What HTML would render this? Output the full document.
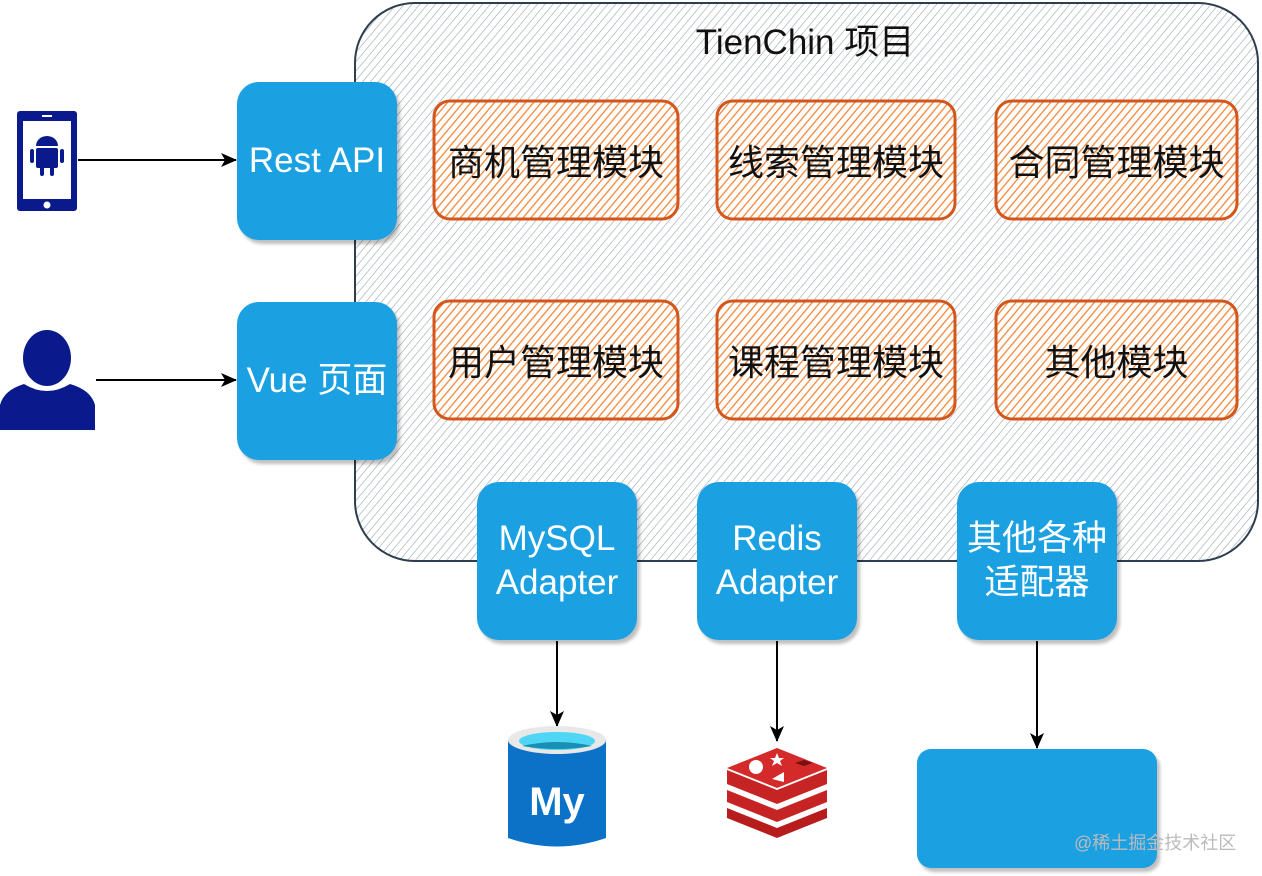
<!DOCTYPE html>
<html><head><meta charset="utf-8"><style>
html,body{margin:0;padding:0;background:#fff;}
body{width:1262px;height:876px;position:relative;overflow:hidden;font-family:"Liberation Sans","Noto Sans CJK SC",sans-serif;}
.b{position:absolute;background:#1ba1e2;border-radius:22px;color:#fff;display:flex;align-items:center;justify-content:center;text-align:center;font-size:35px;line-height:44px;box-shadow:3px 4px 3px rgba(0,0,0,0.25);}
.m{position:absolute;display:flex;align-items:center;justify-content:center;font-size:36px;color:#111;}
</style></head><body>
<svg width="1262" height="876" style="position:absolute;left:0;top:0">
<defs>
<pattern id="g" width="6" height="6" patternUnits="userSpaceOnUse" patternTransform="rotate(40)">
<line x1="0" y1="0" x2="0" y2="6" stroke="#9aa3aa" stroke-width="1.2"/>
</pattern>
<pattern id="o" width="6" height="6" patternUnits="userSpaceOnUse" patternTransform="rotate(40)">
<rect width="6" height="6" fill="#fff"/>
<line x1="0" y1="0" x2="0" y2="6" stroke="#f0883a" stroke-width="2.6"/>
</pattern>
<marker id="a" markerWidth="16" markerHeight="14" refX="15" refY="7" orient="auto" markerUnits="userSpaceOnUse"><path d="M0,0 L16,7 L0,14 L4,7z" fill="#000"/></marker>
</defs>
<rect x="355" y="3" width="903" height="558" rx="60" fill="#fff"/>
<rect x="355" y="3" width="903" height="558" rx="60" fill="url(#g)" stroke="#2d3e50" stroke-width="2"/>
<g fill="url(#o)" stroke="#d4561a" stroke-width="3">
<rect x="434" y="101" width="244" height="118" rx="16"/>
<rect x="717" y="101" width="238" height="118" rx="16"/>
<rect x="996" y="101" width="241" height="118" rx="16"/>
<rect x="434" y="301" width="244" height="118" rx="16"/>
<rect x="717" y="301" width="238" height="118" rx="16"/>
<rect x="996" y="301" width="241" height="118" rx="16"/>
</g>
<g stroke="#000" stroke-width="2" marker-end="url(#a)">
<line x1="78" y1="160" x2="236" y2="160"/>
<line x1="96" y1="380" x2="236" y2="380"/>
<line x1="557" y1="641" x2="557" y2="726"/>
<line x1="777" y1="641" x2="777" y2="741"/>
<line x1="1037" y1="641" x2="1037" y2="748"/>
</g>
<rect x="17" y="111" width="60" height="100" rx="3" fill="#0a1a8c"/>
<rect x="23" y="121" width="48" height="78" fill="#fff"/>
<rect x="42" y="115" width="10" height="2" fill="#fff"/>
<circle cx="47" cy="205" r="3.5" fill="#fff"/>
<g fill="#0a1a8c"><path d="M36,146 a11,10 0 0 1 22,0z"/><rect x="36" y="148" width="22" height="20" rx="2"/><rect x="30" y="149" width="4" height="14" rx="2"/><rect x="60" y="149" width="4" height="14" rx="2"/><rect x="40" y="166" width="4" height="10" rx="2"/><rect x="50" y="166" width="4" height="10" rx="2"/></g>
<g fill="#0a1a8c"><ellipse cx="47" cy="358" rx="24" ry="28"/><path d="M0,430 L0,405 Q4,390 24,384 Q47,398 70,384 Q91,390 95,405 L95,430z"/></g>
<path d="M508,740 L508,838 Q557,855 606,838 L606,740z" fill="#0b72c8"/>
<ellipse cx="557" cy="740" rx="49" ry="14" fill="#e8e8e8"/>
<ellipse cx="557" cy="741" rx="38" ry="9" fill="#4fd6f5"/>
<path d="M522,746 Q557,738 592,746 Q557,752 522,746z" fill="#1a8fb5"/>
<text x="557" y="815" text-anchor="middle" font-size="40" font-weight="bold" fill="#fff" font-family="Liberation Sans">My</text>
<g fill="#b81d1d"><path d="M727,808 L777,828 L827,808 L827,818 L777,838 L727,818z"/><path d="M727,790 L777,810 L827,790 L827,802 L777,822 L727,802z" fill="#c62424"/><path d="M727,770 L777,790 L827,770 L827,784 L777,804 L727,784z" fill="#c62424"/><path d="M727,768 L777,748 L827,768 L777,788z" fill="#d42a2a"/></g>
<circle cx="756" cy="767" r="7" fill="#fff"/><path d="M772,779 L784,772 L784,782z" fill="#fff"/><path d="M777,753 l2,5 5,0 -4,3 2,5 -5,-3 -5,3 2,-5 -4,-3 5,0z" fill="#fff"/>
<path d="M795,763 l9,-3 9,3 -9,3z" fill="#7a1010"/>
</svg>
<div style="position:absolute;left:605px;top:14px;width:400px;text-align:center;font-size:35px;color:#111">TienChin 项目</div>
<div class="m" style="left:434px;top:101px;width:244px;height:118px">商机管理模块</div>
<div class="m" style="left:717px;top:101px;width:238px;height:118px">线索管理模块</div>
<div class="m" style="left:996px;top:101px;width:241px;height:118px">合同管理模块</div>
<div class="m" style="left:434px;top:301px;width:244px;height:118px">用户管理模块</div>
<div class="m" style="left:717px;top:301px;width:238px;height:118px">课程管理模块</div>
<div class="m" style="left:996px;top:301px;width:241px;height:118px">其他模块</div>
<div class="b" style="left:237px;top:82px;width:160px;height:158px">Rest API</div>
<div class="b" style="left:237px;top:302px;width:160px;height:158px">Vue 页面</div>
<div class="b" style="left:477px;top:482px;width:160px;height:158px">MySQL<br>Adapter</div>
<div class="b" style="left:697px;top:482px;width:160px;height:158px">Redis<br>Adapter</div>
<div class="b" style="left:957px;top:482px;width:160px;height:158px">其他各种<br>适配器</div>
<div class="b" style="left:917px;top:749px;width:240px;height:119px;border-radius:14px"></div>
<div style="position:absolute;left:1074px;top:829px;font-size:18px;color:#bbb">@稀土掘金技术社区</div>
</body></html>
